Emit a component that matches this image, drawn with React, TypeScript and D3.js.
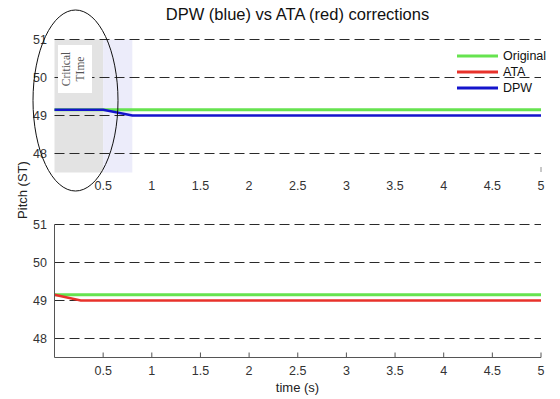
import React from 'react';
import * as d3 from 'd3';

// series data (time in s, pitch in ST)
const originalT = [0, 5];
const originalV = [49.15, 49.15];
const dpwT = [0, 0.5, 0.8, 5];
const dpwV = [49.15, 49.15, 49.0, 49.0];
const ataT = [0, 0.27, 5];
const ataV = [49.15, 49.0, 49.0];

const xTicks = [0.5, 1, 1.5, 2, 2.5, 3, 3.5, 4, 4.5, 5];
const yTicks = [48, 49, 50, 51];
const criticalSpan = [0, 0.5];
const correctionSpan = [0.5, 0.8];

const legendItems = [
  { label: 'Original', color: '#66e34f' },
  { label: 'ATA', color: '#e8322b' },
  { label: 'DPW', color: '#1414cc' },
];

const W = 560;
const H = 399;
const FONT = '"Liberation Sans", Arial, Helvetica, sans-serif';
const GREEN = '#66e34f';
const RED = '#e8322b';
const BLUE = '#1414cc';

const toPts = (t: number[], v: number[]) => t.map((d, i) => [d, v[i]] as [number, number]);

const App: React.FC = () => {
  const x = d3.scaleLinear().domain([0, 5]).range([54.5, 541]);
  const yTop = d3.scaleLinear().domain([47.5, 51]).range([172.5, 39.5]);
  const yBot = d3.scaleLinear().domain([47.5, 51]).range([357.5, 224.5]);

  const lineTop = d3.line<[number, number]>().x(d => x(d[0])).y(d => yTop(d[1]));
  const lineBot = d3.line<[number, number]>().x(d => x(d[0])).y(d => yBot(d[1]));

  const grid = (y: d3.ScaleLinear<number, number>, key: string) =>
    yTicks.map(t => (
      <g key={key + t}>
        <line x1={x(0)} x2={x(5)} y1={y(t)} y2={y(t)} stroke="#2a2a2a" strokeWidth={1} strokeDasharray="10,5" />
        <text x={47} y={y(t) + 4.5} textAnchor="end" fontSize={12.5} fill="#333">{t}</text>
      </g>
    ));

  const tickLabels = (yPos: number, key: string) =>
    xTicks.map(t => (
      <text key={key + t} x={x(t)} y={yPos} textAnchor="middle" fontSize={12.5} fill="#333">{t}</text>
    ));

  return (
    <svg width={W} height={H} style={{ position: 'absolute', left: 0, top: 0, fontFamily: FONT }}>
      <rect width={W} height={H} fill="white" />

      {/* title */}
      <text x={297.5} y={20} textAnchor="middle" fontSize={16.5} fill="#111">
        DPW (blue) vs ATA (red) corrections
      </text>

      {/* top panel */}
      <rect x={x(criticalSpan[0])} y={yTop(51)} width={x(criticalSpan[1]) - x(criticalSpan[0])}
        height={yTop(47.5) - yTop(51)} fill="#e3e3e3" />
      <rect x={x(correctionSpan[0])} y={yTop(51)} width={x(correctionSpan[1]) - x(correctionSpan[0])}
        height={yTop(47.5) - yTop(51)} fill="#ececfa" />
      {grid(yTop, 'gt')}
      <rect x={58} y={45} width={34} height={48} fill="white" />
      <text transform="translate(70,69) rotate(-90)" textAnchor="middle" fontSize={11.5}
        fontFamily='"Liberation Serif", "DejaVu Serif", serif' fill="#555">Critical</text>
      <text transform="translate(84,69) rotate(-90)" textAnchor="middle" fontSize={11.5}
        fontFamily='"Liberation Serif", "DejaVu Serif", serif' fill="#555">TIme</text>
      <path d={lineTop(toPts(originalT, originalV)) || ''} fill="none" stroke={GREEN} strokeWidth={3} />
      <path d={lineTop(toPts(dpwT, dpwV)) || ''} fill="none" stroke={BLUE} strokeWidth={2.5} />
      <line x1={x(5)} x2={x(5)} y1={167} y2={172} stroke="#777" strokeWidth={0.8} />
      {tickLabels(190, 'tt')}

      {/* legend */}
      {legendItems.map((d, i) => (
        <g key={d.label}>
          <line x1={457} x2={498} y1={56 + i * 16} y2={56 + i * 16} stroke={d.color} strokeWidth={3} />
          <text x={503} y={60 + i * 16} fontSize={12.5} fill="#111">{d.label}</text>
        </g>
      ))}

      {/* annotation ellipse */}
      <ellipse cx={75.5} cy={100.5} rx={42.5} ry={90.5} fill="none" stroke="#111" strokeWidth={1} />

      {/* bottom panel */}
      {grid(yBot, 'gb')}
      <path d={lineBot(toPts(originalT, originalV)) || ''} fill="none" stroke={GREEN} strokeWidth={3} />
      <path d={lineBot(toPts(ataT, ataV)) || ''} fill="none" stroke={RED} strokeWidth={2.5} />
      <line x1={x(0)} x2={x(0)} y1={yBot(51)} y2={yBot(47.5)} stroke="#555" strokeWidth={1} />
      <line x1={x(0)} x2={x(5)} y1={yBot(47.5)} y2={yBot(47.5)} stroke="#555" strokeWidth={1} />
      {xTicks.map(t => (
        <line key={'bt' + t} x1={x(t)} x2={x(t)} y1={yBot(47.5)} y2={yBot(47.5) - 5} stroke="#555" strokeWidth={1} />
      ))}
      {tickLabels(375, 'bl')}
      <text x={297.5} y={392} textAnchor="middle" fontSize={13} fill="#222">time (s)</text>

      {/* y label */}
      <text transform="translate(27,190) rotate(-90)" textAnchor="middle" fontSize={13} fill="#222">Pitch (ST)</text>
    </svg>
  );
};

export default App;
